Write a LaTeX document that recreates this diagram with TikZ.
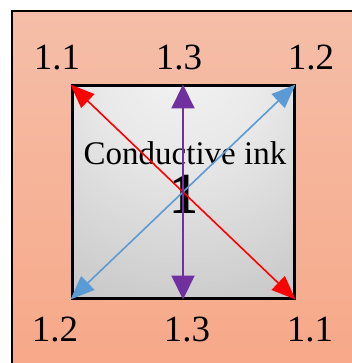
\documentclass[tikz,border=0pt]{standalone}
\usepackage{fontspec}
\setmainfont{Liberation Serif}
\usetikzlibrary{arrows.meta}
\definecolor{bgtop}{RGB}{245,190,168}
\definecolor{bgbot}{RGB}{247,168,136}
\definecolor{inkred}{RGB}{255,0,0}
\definecolor{inkblue}{RGB}{91,155,213}
\definecolor{inkpurple}{RGB}{112,48,160}
\pgfdeclareradialshading{inkshade}{\pgfpoint{0bp}{35bp}}{%
  color(0bp)=(black!4); color(20bp)=(black!9); color(45bp)=(black!20); color(70bp)=(black!28); color(100bp)=(black!30)}
\tikzset{
  lbl/.style={font=\fontsize{37}{40}\selectfont, inner sep=0pt, anchor=base},
  dbl/.style={line width=1.6pt, {Triangle[length=24pt,width=19pt]}-{Triangle[length=24pt,width=19pt]}},
  dblp/.style={line width=2pt, {Triangle[length=24pt,width=23pt]}-{Triangle[length=24pt,width=23pt]}}
}
\begin{document}
\begin{tikzpicture}[x=1pt,y=-1pt]
\useasboundingbox (0,0) rectangle (351,363);
\fill[white] (0,0) rectangle (351,363);
\path[top color=bgtop, bottom color=bgbot, draw=black, line width=2pt] (12,11) rectangle (360,372);
\node[draw=black, line width=3pt, shading=inkshade, minimum width=222pt, minimum height=212pt, inner sep=0pt] (sq) at (183,192) {};
\coordinate (tl) at (sq.north west);
\coordinate (tr) at (sq.north east);
\coordinate (bl) at (sq.south west);
\coordinate (br) at (sq.south east);
\coordinate (tm) at (sq.north);
\coordinate (bm) at (sq.south);
\node[font=\fontsize{33}{36}\selectfont, inner sep=0pt] (ink) at (185,153) {Conductive ink};
\node[font=\fontsize{58}{60}\selectfont\bfseries, inner sep=0pt] (one) at (184,194) {1};
\draw[dbl, inkblue] (tr) -- (bl);
\draw[dbl, inkred] (tl) -- (br);
\draw[dblp, inkpurple] (tm) -- (bm);
\node[lbl] (t1) at (57,70) {1.1};
\node[lbl] (t2) at (179,70) {1.3};
\node[lbl] (t3) at (311,70) {1.2};
\node[lbl] (b1) at (55,341) {1.2};
\node[lbl] (b2) at (187,341) {1.3};
\node[lbl] (b3) at (310,341) {1.1};
\end{tikzpicture}
\end{document}
